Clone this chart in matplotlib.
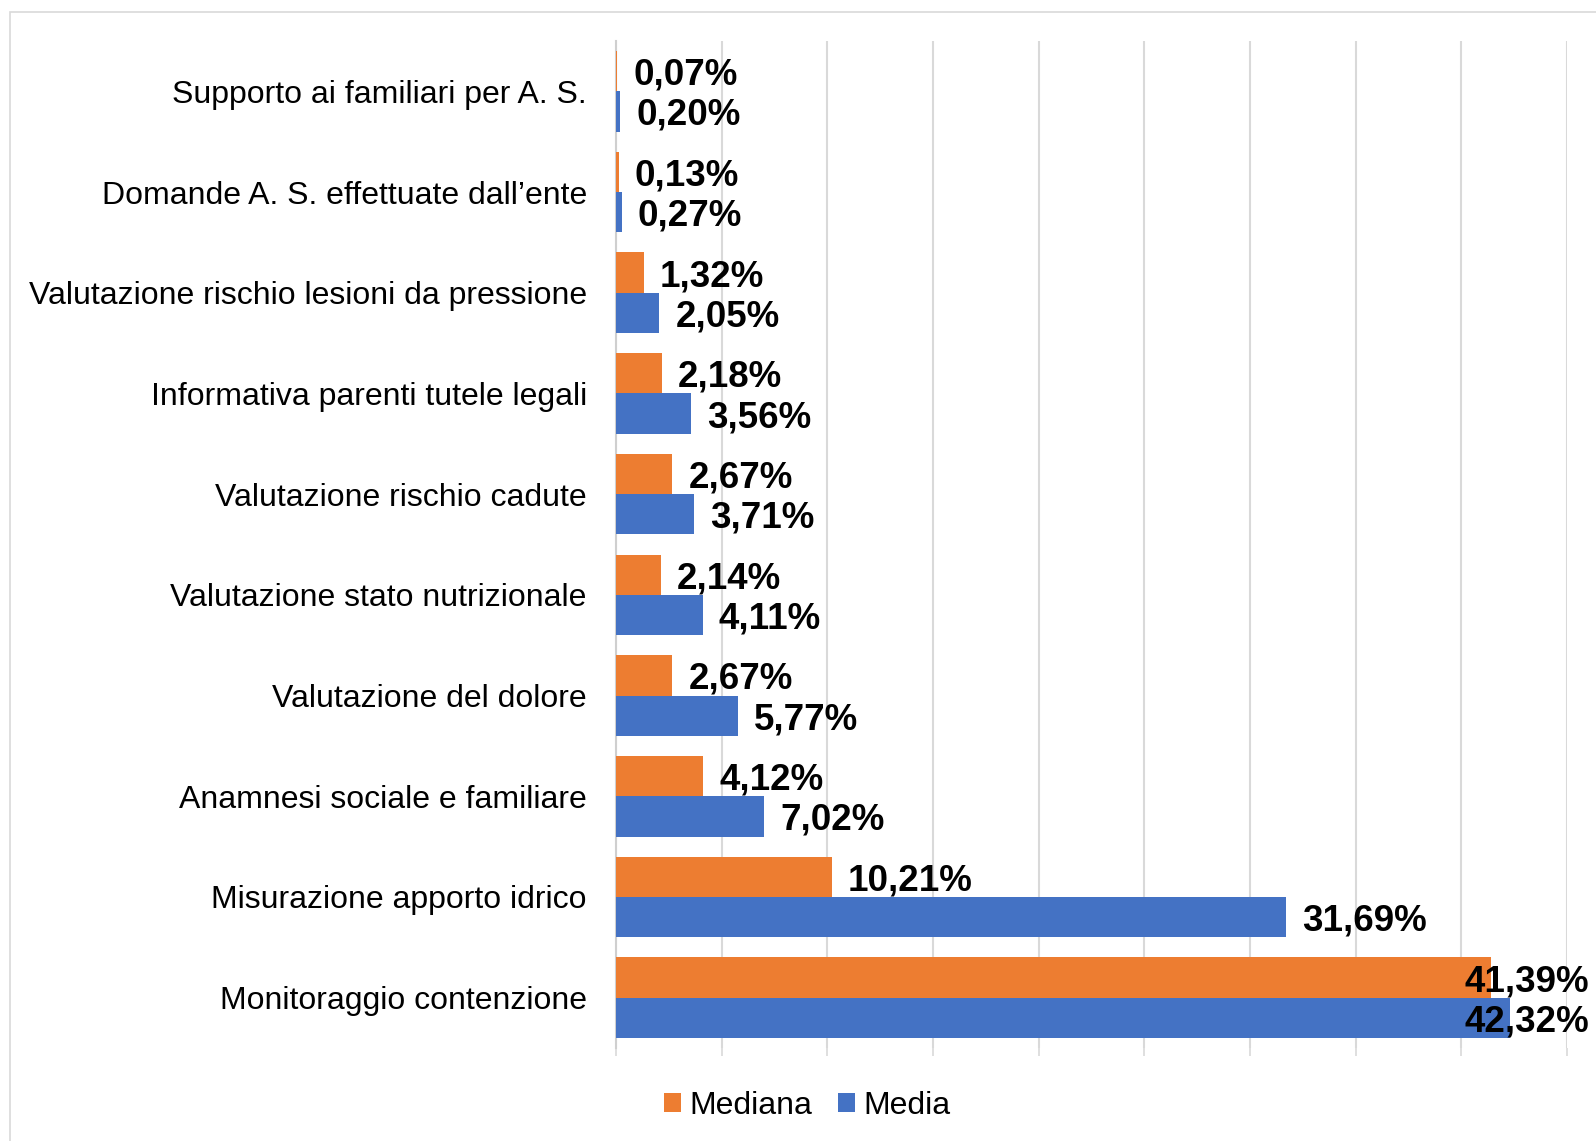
import numpy as np
import matplotlib
matplotlib.use("Agg")
import matplotlib.pyplot as plt
from matplotlib.patches import Rectangle

plt.rcParams['font.family'] = ['Liberation Sans', 'DejaVu Sans']

# Data (top to bottom as in the chart)
categories = [
    "Supporto ai familiari per A. S.",
    "Domande A. S. effettuate dall\u2019ente",
    "Valutazione rischio lesioni da pressione",
    "Informativa parenti tutele legali",
    "Valutazione rischio cadute",
    "Valutazione stato nutrizionale",
    "Valutazione del dolore",
    "Anamnesi sociale e familiare",
    "Misurazione apporto idrico",
    "Monitoraggio contenzione",
]
mediana = [0.07, 0.13, 1.32, 2.18, 2.67, 2.14, 2.67, 4.12, 10.21, 41.39]
media = [0.20, 0.27, 2.05, 3.56, 3.71, 4.11, 5.77, 7.02, 31.69, 42.32]

ORANGE = "#ED7D31"
BLUE = "#4472C4"

fig = plt.figure(figsize=(15.96, 11.41), dpi=100)
ax = fig.add_axes([616 / 1596, 1 - 1048 / 1141, (1567 - 616) / 1596, (1048 - 41) / 1141])

# outer chart border
fig.patches.append(Rectangle((10 / 1596, -0.1), 1.2, 1 - 12 / 1141 + 0.1,
                             transform=fig.transFigure, fill=False,
                             edgecolor="#D9D9D9", linewidth=1.2, zorder=0))

y = np.arange(len(categories))
h = 0.4
bars_med = ax.barh(y - h / 2, mediana, height=h, color=ORANGE, label="Mediana", zorder=3)
bars_mea = ax.barh(y + h / 2, media, height=h, color=BLUE, label="Media", zorder=3)

xmax = 45
ax.set_xlim(0, xmax)
ax.set_ylim(len(categories) - 0.5, -0.5)

ax.set_yticks(y)
ax.set_yticklabels(categories, fontsize=23)
ax.tick_params(axis="y", length=0, pad=21)
ax.set_xticks(np.arange(0, xmax + 1, 5))
ax.set_xticklabels([])
ax.tick_params(axis="x", length=6, color="#D9D9D9", width=1.2)
ax.grid(axis="x", color="#D9D9D9", linewidth=1.5, zorder=0)
for s in ["top", "right", "bottom"]:
    ax.spines[s].set_visible(False)
ax.spines["left"].set_color("#CFCFCF")
ax.spines["left"].set_linewidth(1.5)

def fmt(v):
    return f"{v:.2f}".replace(".", ",") + "%"

# value labels; the two largest ones are pushed against the right edge
for vals, offs in [(mediana, -h / 2), (media, h / 2)]:
    for i, v in enumerate(vals):
        if v > 38:
            ax.annotate(fmt(v), (xmax, i + offs), xytext=(22, 0),
                        textcoords="offset pixels", ha="right", va="center_baseline",
                        fontsize=26.5, fontweight="bold", zorder=5)
        else:
            ax.annotate(fmt(v), (v, i + offs), xytext=(16, 0),
                        textcoords="offset pixels", ha="left", va="center_baseline",
                        fontsize=26.5, fontweight="bold", zorder=5)

fig.legend(handles=[bars_med, bars_mea], labels=["Mediana", "Media"],
           loc="center", bbox_to_anchor=(807 / 1596, 1 - 1106 / 1141), ncol=2,
           frameon=False, fontsize=23, handlelength=0.55, handleheight=0.55,
           handletextpad=0.25, columnspacing=0.8)

fig.savefig("out.png", dpi=100)
